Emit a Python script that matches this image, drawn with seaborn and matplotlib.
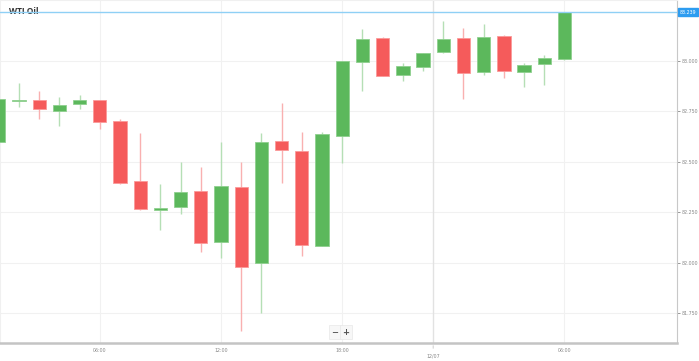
import numpy as np
import pandas as pd
import seaborn as sns
import matplotlib.pyplot as plt

# hourly candles, WTI Oil
opens = [82.597, 82.798, 82.803, 82.750, 82.783, 82.803, 82.702, 82.403, 82.261, 82.273,
         82.354, 82.103, 82.372, 81.996, 82.603, 82.553, 82.082, 82.626, 82.993, 83.111,
         82.927, 82.966, 83.041, 83.110, 82.942, 83.123, 82.942, 82.981, 83.006]
highs = [82.808, 82.890, 82.849, 82.821, 82.829, 82.805, 82.709, 82.640, 82.389, 82.499,
         82.473, 82.595, 82.498, 82.640, 82.790, 82.648, 82.644, 83.000, 83.156, 83.116,
         82.989, 83.036, 83.197, 83.161, 83.181, 83.125, 82.989, 83.026, 83.239]
lows = [82.597, 82.771, 82.709, 82.677, 82.760, 82.659, 82.389, 82.260, 82.161, 82.239,
        82.050, 82.022, 81.661, 81.751, 82.392, 82.032, 82.080, 82.491, 82.849, 82.923,
        82.899, 82.948, 83.039, 82.808, 82.928, 82.913, 82.869, 82.879, 83.005]
closes = [82.808, 82.804, 82.758, 82.778, 82.806, 82.696, 82.395, 82.266, 82.268, 82.349,
          82.098, 82.379, 81.979, 82.597, 82.557, 82.087, 82.636, 82.998, 83.105, 82.925,
          82.973, 83.036, 83.105, 82.937, 83.118, 82.947, 82.976, 83.012, 83.239]
last_price = 83.239

tick_pos = [5, 11, 17, 28]
tick_labels = ["06:00", "12:00", "18:00", "06:00"]
date_pos = 21.5
date_label = "12/07"
y_ticks = [81.75, 82.0, 82.25, 82.5, 82.75, 83.0]

df = pd.DataFrame({"open": opens, "high": highs, "low": lows, "close": closes})
df["i"] = np.arange(len(df))
df["up"] = df["close"] >= df["open"]

sns.set_style("white")
plt.rcParams['font.family'] = ['DejaVu Sans']

fig = plt.figure(figsize=(6.99, 3.61), dpi=100)
ax = fig.add_axes([0, 18.3 / 361, 677 / 699, 342.7 / 361])

green, red = "#5cb85c", "#f55b5b"
green_w, red_w = "#b5dfb5", "#f9b0b0"

for _, r in df.iterrows():
    body_c = green if r["up"] else red
    edge_c = "#8fd08f" if r["up"] else "#fb9a9a"
    wick_c = green_w if r["up"] else red_w
    ax.vlines(r["i"], r["low"], r["high"], color=wick_c, lw=1.0, zorder=2)
    lo = min(r["open"], r["close"])
    h = max(abs(r["close"] - r["open"]), 0.004)
    ax.bar(r["i"], h, bottom=lo, width=0.66, color=body_c, edgecolor=edge_c,
           linewidth=0.6, zorder=3)

ax.axhline(last_price, color="#8fd0f5", lw=1.0, zorder=4)
ax.axvline(date_pos, color="#e2e2e2", lw=1.0, zorder=1)

ax.set_xlim(0.06, 33.57)
ax.set_ylim(81.603, 83.300)

ax.set_xticks(tick_pos)
ax.set_xticklabels(tick_labels)
ax.set_yticks(y_ticks)
ax.set_yticklabels(["%.3f" % v for v in y_ticks])
ax.yaxis.tick_right()
ax.grid(True, color="#f1f1f1", lw=0.8, zorder=0)
ax.set_axisbelow(True)
ax.tick_params(axis="both", labelsize=3.4, colors="#888888", length=2, width=0.6, pad=1.2)
ax.tick_params(axis="x", pad=2)

for s in ["top", "left"]:
    ax.spines[s].set_color("#f0f0f0")
    ax.spines[s].set_linewidth(0.8)
ax.spines["right"].set_color("#c8c8c8")
ax.spines["right"].set_linewidth(0.8)
ax.spines["bottom"].set_color("#c4c4c4")
ax.spines["bottom"].set_linewidth(1.8)

# date label under the axis
ax.annotate(date_label, xy=(date_pos, 0), xycoords=("data", "axes fraction"),
            xytext=(0, -9.4), textcoords="offset points", ha="center", va="center",
            fontsize=3.4, color="#888888", annotation_clip=False)
ax.annotate("", xy=(date_pos, 0), xycoords=("data", "axes fraction"),
            xytext=(0, -6), textcoords="offset points",
            arrowprops=dict(arrowstyle="-", color="#bbbbbb", lw=0.6, ls=(0, (1, 1))),
            annotation_clip=False)

# last price tag
ax.text(1.004, last_price, "%.3f" % last_price, transform=ax.get_yaxis_transform(),
        ha="left", va="center", fontsize=3.4, color="white",
        bbox=dict(boxstyle="square,pad=0.3", fc="#2d9cf0", ec="#2d9cf0"), clip_on=False)

ax.text(0.014, 0.965, "WTI Oil", transform=ax.transAxes, ha="left", va="center",
        fontsize=6, fontweight="bold", color="#333333", family=["Open Sans", "DejaVu Sans"])

# zoom buttons
for xx, s in [(16.62, "\u2212"), (17.17, "+")]:
    ax.text(xx, 0.03, s, transform=ax.get_xaxis_transform(), ha="center", va="center",
            fontsize=6, fontweight="bold", color="#555555",
            bbox=dict(boxstyle="square,pad=0.3", fc="#f7f7f7", ec="#e8e8e8", lw=0.5))

fig.savefig("out.png", dpi=100)
